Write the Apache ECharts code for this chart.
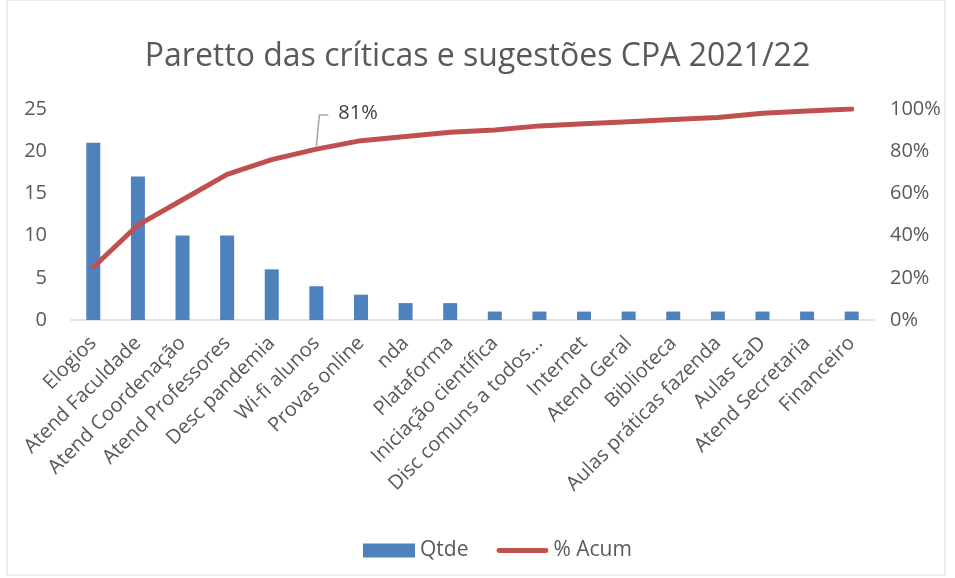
<!DOCTYPE html>
<html lang="pt">
<head>
    <meta charset="UTF-8">
    <title>Paretto CPA</title>
    <style>
        body{ margin:0; background:#ffffff; }
        #chart{ width:955px; height:578px; }
    </style>
</head>
<body>
<div id="chart"></div>
<script src="https://cdn.jsdelivr.net/npm/echarts@6/dist/echarts.min.js"></script>
<script>
    var categorias = ['Elogios','Atend Faculdade','Atend Coordenação','Atend Professores','Desc pandemia',
        'Wi-fi alunos','Provas online','nda','Plataforma','Iniciação científica','Disc comuns a todos...',
        'Internet','Atend Geral','Biblioteca','Aulas práticas fazenda','Aulas EaD','Atend Secretaria','Financeiro'];
    var qtde = [21,17,10,10,6,4,3,2,2,1,1,1,1,1,1,1,1,1];
    var acum = [25,45,57,69,76,81,85,87,89,90,92,93,94,95,96,98,99,100];
    var qtdeTicks = [0,5,10,15,20,25];
    var idxRotulo = 5; // ponto com rótulo (81%)

    var fonte = '"Open Sans", sans-serif';
    var cinza = '#595959';
    var vermelho = '#c0504d';

    var chart = echarts.init(document.getElementById('chart'));

    var option = {
        animation: false,
        title: {
            text: 'Paretto das críticas e sugestões CPA 2021/22',
            left: 'center',
            top: 36,
            textStyle: { fontSize: 32, fontWeight: 'normal', color: cinza, fontFamily: fonte }
        },
        legend: {
            bottom: 12,
            left: 358,
            itemGap: 28,
            itemWidth: 52,
            itemHeight: 14,
            textStyle: { fontSize: 21, color: cinza, fontFamily: fonte },
            data: [
                { name: 'Qtde', icon: 'rect' },
                { name: '% Acum', icon: 'path://M2,0 L50,0 A2.5,2.5 0 0 1 50,5 L2,5 A2.5,2.5 0 0 1 2,0 Z',
                  itemStyle: { color: vermelho } }
            ]
        },
        grid: { left: 71, right: 81, top: 109, bottom: 258 },
        xAxis: {
            type: 'category',
            data: categorias,
            axisTick: { show: false },
            axisLine: { lineStyle: { color: '#d9d9d9', width: 1.5 } },
            axisLabel: {
                rotate: 45,
                interval: 0,
                margin: 20,
                fontSize: 20,
                color: cinza,
                fontFamily: fonte
            }
        },
        yAxis: [{
            type: 'value',
            min: qtdeTicks[0],
            max: qtdeTicks[qtdeTicks.length - 1],
            interval: 5,
            splitLine: { show: false },
            axisLine: { show: false },
            axisLabel: { fontSize: 20, color: cinza, fontFamily: fonte, margin: 24 }
        }, {
            type: 'value',
            min: 0,
            max: 100,
            interval: 20,
            splitLine: { show: false },
            axisLine: { show: false },
            axisLabel: { formatter: '{value}%', fontSize: 20, color: cinza, fontFamily: fonte, margin: 16 }
        }],
        series: [{
            name: 'Qtde',
            type: 'bar',
            data: qtde,
            barWidth: 14,
            itemStyle: { color: '#4f81bd' }
        }, {
            name: '% Acum',
            type: 'line',
            yAxisIndex: 1,
            data: acum,
            showSymbol: false,
            symbol: 'none',
            lineStyle: { color: vermelho, width: 5, cap: 'round', join: 'round' },
            itemStyle: { color: vermelho },
            z: 3
        }]
    };
    chart.setOption(option);

    // rótulo de 81% com linha guia, posicionado a partir do ponto da série
    var p = chart.convertToPixel({ seriesIndex: 1 }, [idxRotulo, acum[idxRotulo]]);
    chart.setOption({
        graphic: [{
            type: 'rect',
            shape: { x: 7, y: 0, width: 938, height: 575 },
            style: { fill: 'none', stroke: '#d9d9d9', lineWidth: 1 },
            silent: true
        }, {
            type: 'polyline',
            shape: { points: [[p[0], p[1] - 3], [p[0] + 3, p[1] - 34], [p[0] + 12, p[1] - 34]] },
            style: { fill: 'none', stroke: '#a6a6a6', lineWidth: 1.5 },
            z: 10,
            silent: true
        }, {
            type: 'text',
            x: p[0] + 22,
            y: p[1] - 36,
            style: {
                text: acum[idxRotulo] + '%',
                fill: '#404040',
                font: '20px "Open Sans", sans-serif',
                verticalAlign: 'middle'
            },
            z: 10,
            silent: true
        }]
    });
</script>
</body>
</html>
